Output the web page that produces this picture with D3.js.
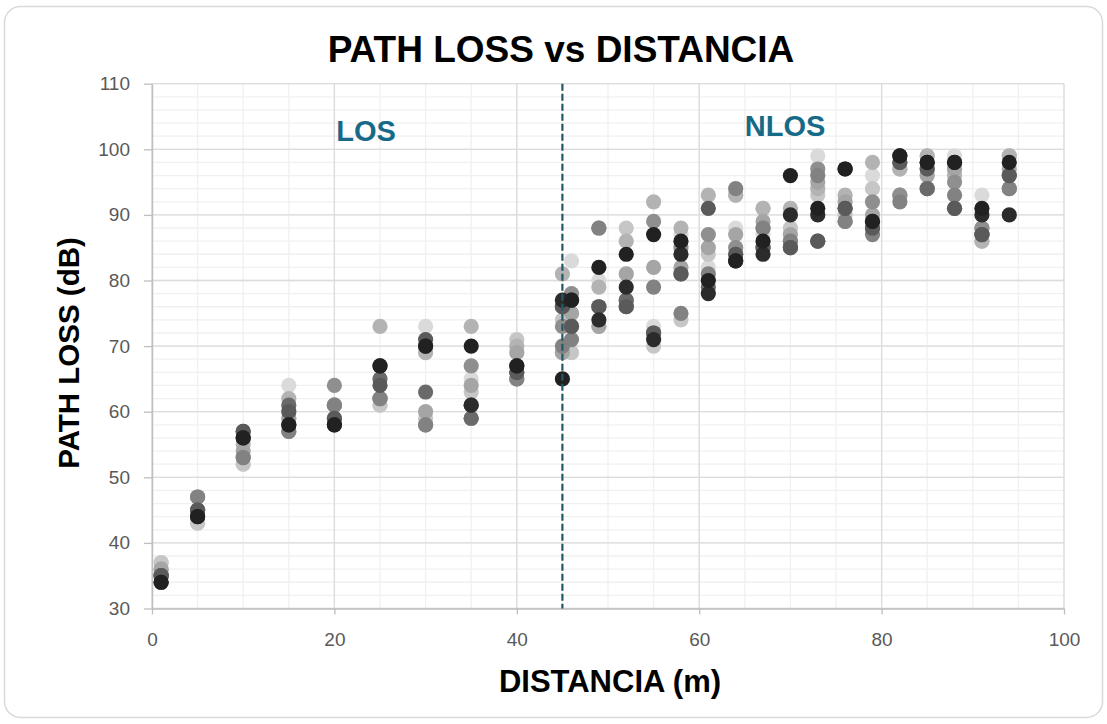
<!DOCTYPE html>
<html>
<head>
<meta charset="utf-8">
<script src="https://cdn.jsdelivr.net/npm/d3@7"></script>
<style>
  body { margin: 0; background: #ffffff; }
  svg text { font-family: "Liberation Sans", Arial, sans-serif; }
</style>
</head>
<body>
<div id="chart"></div>
<script>
////////////////////////////////////////////////////////////////////////
//
// data -- read off the picture, one array per measurement run
//
////////////////////////////////////////////////////////////////////////
var distances = [1, 5, 10, 15, 20, 25, 30, 35, 40, 45, 46, 49, 52, 55, 58, 61, 64, 67, 70, 73, 76, 79, 82, 85, 88, 91, 94];

var run1  = [37, 43, 52, 64, 59, 61, 73, 65, 70, 69, 83, 80, 81, 73, 87, 82, 88, 87, 88, 99, 90, 96, 97, 96, 99, 93, 99];
var run2  = [37, 43, 52, 59, 61, 61, 59, 63, 71, 74, 69, 73, 88, 70, 74, 84, 93, 91, 88, 93, 90, 94, 97, 99, 97, 86, 99];
var run3  = [36, 45, 55, 62, 61, 73, 69, 73, 70, 81, 75, 79, 86, 92, 88, 93, 93, 91, 91, 94, 93, 98, 97, 99, 96, 86, 99];
var run4  = [36, 45, 54, 59, 61, 62, 60, 64, 69, 69, 75, 73, 81, 82, 82, 85, 87, 89, 87, 95, 92, 90, 93, 96, 97, 88, 97];
var run5  = [35, 47, 53, 57, 64, 62, 58, 67, 65, 73, 78, 88, 77, 89, 85, 87, 85, 88, 86, 97, 89, 92, 93, 97, 95, 88, 94];
var run6  = [35, 47, 53, 57, 61, 62, 58, 59, 65, 70, 71, 88, 76, 79, 75, 81, 94, 88, 86, 96, 89, 87, 92, 94, 93, 87, 94];
var run7  = [35, 45, 57, 61, 59, 65, 63, 59, 66, 76, 73, 76, 77, 72, 81, 79, 84, 85, 85, 86, 91, 88, 98, 94, 91, 87, 96];
var run8  = [35, 45, 57, 60, 59, 64, 71, 61, 66, 76, 73, 76, 76, 72, 81, 91, 84, 85, 85, 86, 91, 88, 98, 97, 91, 87, 96];
var run9  = [34, 44, 56, 58, 58, 67, 70, 61, 67, 77, 77, 74, 79, 71, 84, 78, 83, 84, 90, 90, 97, 89, 99, 98, 98, 90, 90];
var run10 = [34, 44, 56, 58, 58, 67, 70, 70, 67, 65, 77, 82, 84, 87, 86, 80, 83, 86, 96, 91, 97, 89, 99, 98, 98, 91, 98];

var runs = [run1, run2, run3, run4, run5, run6, run7, run8, run9, run10];

var xTickValues = [0, 20, 40, 60, 80, 100];
var yTickValues = [30, 40, 50, 60, 70, 80, 90, 100, 110];
var losBoundary = 45;

//gray shades, light to dark (dark runs sit on top)
var runColors = ["#dadada", "#c6c6c6", "#b3b3b3", "#a5a5a5", "#8f8f8f", "#828282", "#6a6a6a", "#5a5a5a", "#2b2b2b", "#212121"];


////////////////////////////////////////////////////////////////////////
//
// build the chart
//
////////////////////////////////////////////////////////////////////////
function drawChart()
    {
    var width = 1107;
    var height = 724;
    var plot = {left: 152, right: 1064, top: 83.7, bottom: 608.5};

    var svg = d3.select("#chart")
        .append("svg")
        .attr("width", width)
        .attr("height", height);

    //outer chart border
    svg.append("rect")
        .attr("x", 4.5).attr("y", 6.5)
        .attr("width", 1098).attr("height", 711)
        .attr("rx", 16).attr("ry", 16)
        .attr("fill", "#ffffff")
        .attr("stroke", "#d9d9d9")
        .attr("stroke-width", 1.5);

    var x = d3.scaleLinear().domain([0, 100]).range([plot.left, plot.right]);
    var y = d3.scaleLinear().domain([30, 110]).range([plot.bottom, plot.top]);

    //minor grid
    var grid = svg.append("g");
    grid.selectAll(".vminor")
        .data(x.ticks(25))
        .enter().append("line")
        .attr("x1", d => x(d)).attr("x2", d => x(d))
        .attr("y1", plot.top).attr("y2", plot.bottom)
        .attr("stroke", "#f0f0f0").attr("stroke-width", 1.3);
    grid.selectAll(".hminor")
        .data(y.ticks(40))
        .enter().append("line")
        .attr("x1", plot.left).attr("x2", plot.right)
        .attr("y1", d => y(d)).attr("y2", d => y(d))
        .attr("stroke", "#f0f0f0").attr("stroke-width", 1.3);

    //major grid
    grid.selectAll(".vmajor")
        .data(xTickValues)
        .enter().append("line")
        .attr("x1", d => x(d)).attr("x2", d => x(d))
        .attr("y1", plot.top).attr("y2", plot.bottom)
        .attr("stroke", "#dcdcdc").attr("stroke-width", 1.3);
    grid.selectAll(".hmajor")
        .data(yTickValues)
        .enter().append("line")
        .attr("x1", plot.left).attr("x2", plot.right)
        .attr("y1", d => y(d)).attr("y2", d => y(d))
        .attr("stroke", "#dcdcdc").attr("stroke-width", 1.3);

    //axes
    var xAxis = svg.append("g")
        .attr("transform", "translate(0," + plot.bottom + ")")
        .call(d3.axisBottom(x).tickValues(xTickValues).tickSize(6).tickPadding(18).tickSizeOuter(0));
    var yAxis = svg.append("g")
        .attr("transform", "translate(" + plot.left + ",0)")
        .call(d3.axisLeft(y).tickValues(yTickValues).tickSize(8).tickPadding(14).tickSizeOuter(0));

    [xAxis, yAxis].forEach(a =>
        {
        a.select(".domain").attr("stroke", "#bfbfbf").attr("stroke-width", 1.5);
        a.selectAll(".tick line").attr("stroke", "#bfbfbf").attr("stroke-width", 1.3);
        a.selectAll(".tick text")
            .attr("fill", "#595959")
            .style("font-size", "19px")
            .style("font-family", "'Liberation Sans', Arial, sans-serif");
        });

    //points, one group per run
    var pts = svg.append("g");
    runs.forEach((run, i) =>
        {
        pts.append("g")
            .selectAll("circle")
            .data(run.map((v, j) => ({d: distances[j], v: v})))
            .enter().append("circle")
            .attr("cx", p => x(p.d))
            .attr("cy", p => y(p.v))
            .attr("r", 7.6)
            .attr("fill", runColors[i]);
        });

    //LOS / NLOS divider
    svg.append("line")
        .attr("x1", x(losBoundary)).attr("x2", x(losBoundary))
        .attr("y1", plot.top).attr("y2", plot.bottom)
        .attr("stroke", "#215a68")
        .attr("stroke-width", 2.2)
        .attr("stroke-dasharray", "7,3");

    svg.append("text")
        .attr("x", 366).attr("y", 141)
        .attr("text-anchor", "middle")
        .attr("fill", "#176a87")
        .style("font-size", "29px").style("font-weight", "bold")
        .text("LOS");

    svg.append("text")
        .attr("x", 785).attr("y", 136)
        .attr("text-anchor", "middle")
        .attr("fill", "#176a87")
        .style("font-size", "29px").style("font-weight", "bold")
        .text("NLOS");

    //titles
    svg.append("text")
        .attr("x", 561).attr("y", 62)
        .attr("text-anchor", "middle")
        .attr("fill", "#000000")
        .style("font-size", "37px").style("font-weight", "bold")
        .text("PATH LOSS vs DISTANCIA");

    svg.append("text")
        .attr("x", (plot.left + plot.right) / 2 + 2).attr("y", 692)
        .attr("text-anchor", "middle")
        .attr("fill", "#000000")
        .style("font-size", "31px").style("font-weight", "bold")
        .text("DISTANCIA (m)");

    svg.append("text")
        .attr("transform", "translate(79,353) rotate(-90)")
        .attr("text-anchor", "middle")
        .attr("fill", "#000000")
        .style("font-size", "29.5px").style("font-weight", "bold")
        .text("PATH LOSS (dB)");
    }

drawChart();
</script>
</body>
</html>
